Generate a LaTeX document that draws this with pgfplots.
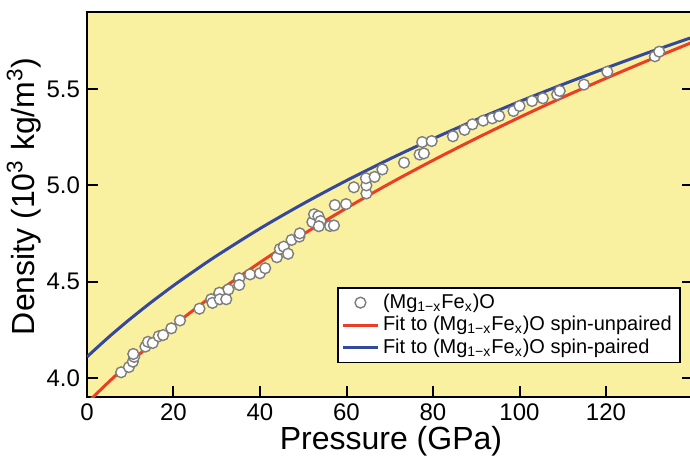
\documentclass[border=0pt]{standalone}
\usepackage{pgfplots}
\pgfplotsset{compat=1.18}
\usepackage{fontspec}
\setmainfont{Liberation Sans}

\definecolor{bgyellow}{RGB}{249,241,160}
\definecolor{fitred}{RGB}{235,62,38}
\definecolor{fitblue}{RGB}{52,72,158}
\definecolor{mkgray}{RGB}{125,125,125}

% fitted curves
\pgfplotstableread{
P rho
0 3.870
5 3.979
10 4.082
15 4.179
20 4.272
25 4.359
30 4.443
40 4.600
50 4.746
60 4.882
70 5.010
80 5.130
90 5.244
100 5.353
110 5.457
120 5.556
130 5.651
140 5.743
}\unpaired

\pgfplotstableread{
P rho
0 4.110
5 4.212
10 4.307
15 4.396
20 4.480
25 4.559
30 4.635
40 4.776
50 4.905
60 5.025
70 5.137
80 5.242
90 5.341
100 5.435
110 5.524
120 5.609
130 5.691
140 5.769
}\paired

% measured densities
\pgfplotstableread{
P rho
7.9 4.030
9.7 4.057
10.6 4.085
10.9 4.110
10.7 4.125
13.5 4.163
14.1 4.188
15.2 4.182
16.6 4.217
17.6 4.223
19.5 4.258
21.5 4.299
26.0 4.360
28.7 4.409
29.0 4.390
30.6 4.443
30.7 4.409
32.2 4.409
32.7 4.460
35.2 4.518
35.2 4.483
37.7 4.538
40.0 4.544
41.2 4.570
43.9 4.627
44.6 4.670
45.5 4.682
46.5 4.645
47.3 4.717
49.1 4.734
49.2 4.751
52.1 4.810
52.5 4.850
53.5 4.840
54.0 4.815
53.6 4.788
56.2 4.789
57.1 4.792
57.3 4.898
59.9 4.903
61.7 4.990
64.6 4.958
64.6 5.000
64.5 5.037
66.5 5.044
68.3 5.083
73.3 5.118
76.9 5.160
77.9 5.166
77.5 5.225
79.7 5.230
84.6 5.255
87.3 5.288
89.1 5.317
91.6 5.336
93.7 5.348
95.3 5.360
98.6 5.386
100.0 5.412
102.9 5.438
105.4 5.452
108.7 5.472
109.3 5.490
114.9 5.523
120.3 5.590
131.3 5.670
132.3 5.694
}\measured

\begin{document}
\begin{tikzpicture}
\begin{axis}[
    scale only axis,
    width=302.75pt,
    height=192.65pt,
    xmin=0, xmax=140,
    ymin=3.9, ymax=5.9,
    xtick={0,20,40,60,80,100,120},
    xticklabels={0,20,40,60,80,100,120},
    ytick={4.0,4.5,5.0,5.5},
    yticklabels={4.0,4.5,5.0,5.5},
    xtick pos=lower,
    ytick pos=both,
    tick align=inside,
    major tick length=5.5pt,
    tick style={line width=1pt, black},
    axis line style={line width=1pt},
    axis background/.style={fill=bgyellow},
    ticklabel style={font=\fontsize{12}{14}\selectfont},
    xticklabel style={anchor=base, yshift=-11.4pt},
    xlabel={Pressure (GPa)},
    ylabel={Density (10\textsuperscript{3} kg/m\textsuperscript{3})},
    xlabel style={font=\fontsize{16}{19}\selectfont, at={(axis description cs:0.502,-0.1365)}, anchor=base},
    ylabel style={font=\fontsize{16}{19}\selectfont, at={(axis description cs:-0.0859,0.522)}, anchor=base, rotate=0},
    legend style={at={(0.413,0.286)}, anchor=north west, draw=black, line width=0.8pt,
        fill=white, font=\fontsize{10}{11}\selectfont, row sep=-1.5pt,
        inner xsep=2pt, inner ysep=1pt},
    legend cell align=left,
]
\coordinate (bl) at (rel axis cs:0,0);
\coordinate (tr) at (rel axis cs:1,1);

\addplot[fitred, line width=1.5pt, smooth, forget plot] table[x=P, y=rho] {\unpaired};
\addplot[fitblue, line width=1.5pt, smooth, forget plot] table[x=P, y=rho] {\paired};

\addplot[only marks, mark=*, mark size=2.7pt,
    mark options={fill=white, draw=mkgray, line width=0.7pt}] table[x=P, y=rho] {\measured};
\addlegendentry{(Mg\textsubscript{1−x}Fe\textsubscript{x})O}

\addlegendimage{fitred, line width=1.5pt}
\addlegendentry{Fit to (Mg\textsubscript{1−x}Fe\textsubscript{x})O spin-unpaired}
\addlegendimage{fitblue, line width=1.5pt}
\addlegendentry{Fit to (Mg\textsubscript{1−x}Fe\textsubscript{x})O spin-paired}
\end{axis}
\pgfresetboundingbox
\path ([xshift=-43.5pt, yshift=-29pt]bl) rectangle ([xshift=-1.25pt, yshift=6pt]tr);
\end{tikzpicture}
\end{document}
